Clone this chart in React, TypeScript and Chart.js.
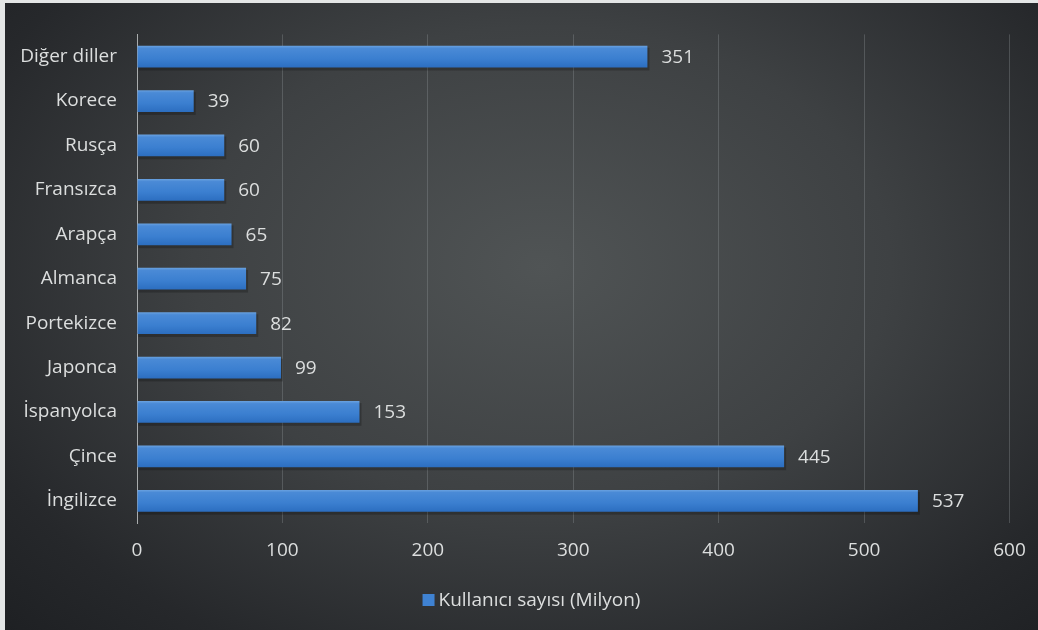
import React, { useEffect, useRef } from "react";
import { Chart, registerables } from "chart.js";

Chart.register(...registerables);

const categories = [
  "Diğer diller",
  "Korece",
  "Rusça",
  "Fransızca",
  "Arapça",
  "Almanca",
  "Portekizce",
  "Japonca",
  "İspanyolca",
  "Çince",
  "İngilizce",
];
const values = [351, 39, 60, 60, 65, 75, 82, 99, 153, 445, 537];
const seriesName = "Kullanıcı sayısı (Milyon)";
const xTicks = [0, 100, 200, 300, 400, 500, 600];

const FONT = "'Open Sans', 'DejaVu Sans', sans-serif";
const TEXT = "#dcdede";
const BAR = "#3f82d2";
const BAR_PCT = 0.49;
const FS = 19;

const valueLabels = {
  id: "valueLabels",
  afterDatasetsDraw(chart: any) {
    const ctx = chart.ctx;
    const meta = chart.getDatasetMeta(0);
    ctx.save();
    ctx.font = `${FS}px ${FONT}`;
    ctx.fillStyle = TEXT;
    ctx.textAlign = "left";
    ctx.textBaseline = "middle";
    meta.data.forEach((el: any, i: number) => {
      ctx.fillText(String(values[i]), el.x + 14, el.y + 1);
    });
    ctx.restore();
  },
};

const barShadow = {
  id: "barShadow",
  beforeDatasetsDraw(chart: any) {
    const ctx = chart.ctx;
    const meta = chart.getDatasetMeta(0);
    ctx.save();
    ctx.fillStyle = "rgba(0,0,0,0.22)";
    meta.data.forEach((el: any) => {
      const h = el.height;
      ctx.fillRect(el.base + 1, el.y - h / 2 + 2, el.x - el.base + 1, h + 1);
    });
    ctx.restore();
  },
};

const customLegend = {
  id: "customLegend",
  afterDraw(chart: any) {
    const ctx = chart.ctx;
    ctx.save();
    ctx.font = `${FS}px ${FONT}`;
    const box = 12;
    const gap = 4;
    const tw = ctx.measureText(seriesName).width;
    const total = box + gap + tw;
    const cx = chart.width / 2 + 10;
    const cy = chart.chartArea.bottom + 77;
    const x0 = cx - total / 2;
    ctx.fillStyle = BAR;
    ctx.fillRect(x0, cy - box / 2, box, box);
    ctx.fillStyle = TEXT;
    ctx.textAlign = "left";
    ctx.textBaseline = "middle";
    ctx.fillText(seriesName, x0 + box + gap, cy + 1);
    ctx.restore();
  },
};

export default function App() {
  const ref = useRef<HTMLCanvasElement | null>(null);

  useEffect(() => {
    document.body.style.margin = "0";
    if (!ref.current) return;
    const chart = new Chart(ref.current, {
      type: "bar",
      data: {
        labels: categories,
        datasets: [
          {
            label: seriesName,
            data: values,
            backgroundColor: (c: any) => {
              const ch = c.chart;
              const ys = ch.scales && ch.scales.y;
              if (!ch.chartArea || !ys || c.type !== "data") return BAR;
              const cy = ys.getPixelForValue(c.dataIndex);
              const h = ((ch.chartArea.bottom - ch.chartArea.top) / categories.length) * BAR_PCT;
              if (!Number.isFinite(cy) || !Number.isFinite(h)) return BAR;
              const g = ch.ctx.createLinearGradient(0, cy - h / 2, 0, cy + h / 2);
              g.addColorStop(0, "#6aa2e0");
              g.addColorStop(0.12, "#4a8ad6");
              g.addColorStop(0.6, "#3b7fd0");
              g.addColorStop(1, "#2c6ec0");
              return g;
            },
            borderWidth: 0,
            barPercentage: BAR_PCT,
            categoryPercentage: 1,
          },
        ],
      },
      options: {
        indexAxis: "y",
        animation: false,
        responsive: true,
        maintainAspectRatio: false,
        layout: { padding: { top: 29, right: 28.5, left: 0, bottom: 52 } },
        scales: {
          x: {
            min: 0,
            max: 600,
            afterBuildTicks: (s: any) => {
              s.ticks = xTicks.map((v) => ({ value: v }));
            },
            afterFit: (s: any) => {
              s.height = 55;
              s.paddingLeft = 0;
              s.paddingRight = 0;
            },
            grid: {
              color: "rgba(150,155,158,0.32)",
              drawTicks: false,
              lineWidth: 1,
            },
            border: { display: false },
            ticks: {
              color: TEXT,
              font: { family: FONT, size: FS },
              padding: 16,
            },
          },
          y: {
            afterFit: (s: any) => {
              s.width = 132;
            },
            grid: { display: false, drawTicks: false },
            border: { display: true, color: "#a9acad", width: 1 },
            ticks: {
              color: TEXT,
              font: { family: FONT, size: FS },
              padding: 20,
            },
          },
        },
        plugins: {
          legend: { display: false },
          tooltip: { enabled: false },
        },
      } as any,
      plugins: [barShadow, valueLabels, customLegend],
    });
    return () => chart.destroy();
  }, []);

  return (
    <div
      style={{
        width: 1038,
        height: 630,
        boxSizing: "border-box",
        borderLeft: "5px solid #e4e6e6",
        borderTop: "3px solid #e4e6e6",
        background:
          "radial-gradient(ellipse 75% 85% at 52% 42%, #505455 0%, #3e4143 45%, #26282b 80%, #1d1f22 100%)",
        position: "relative",
        overflow: "hidden",
      }}
    >
      <div style={{ width: 1033, height: 627, position: "relative" }}>
        <canvas ref={ref} />
      </div>
    </div>
  );
}
